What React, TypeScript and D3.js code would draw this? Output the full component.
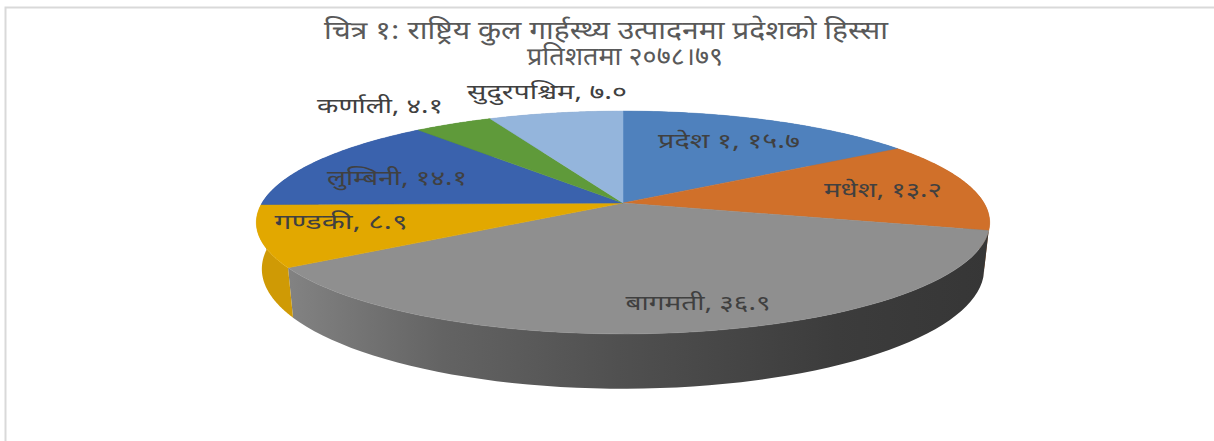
import React from "react";
import * as d3 from "d3";

const WIDTH = 1214;
const HEIGHT = 441;

const provinces = ["प्रदेश १", "मधेश", "बागमती", "गण्डकी", "लुम्बिनी", "कर्णाली", "सुदुरपश्चिम"];
const shareValues = [15.7, 13.2, 36.9, 8.9, 14.1, 4.1, 7.0];
const shareLabels = ["१५.७", "१३.२", "३६.९", "८.९", "१४.१", "४.१", "७.०"];
const sliceColors = ["#4f81bd", "#d0702a", "#8f8f8f", "#e2a800", "#3a62ad", "#5f9a3a", "#94b5dc"];
const sideColors = ["#3f6a9c", "#a85a20", "url(#greySide)", "#cf9a05", "#2f4f8c", "#4b7a2e", "#7a96b8"];
const labelX = [729, 883, 698, 341, 397, 380, 547];
const labelY = [148, 197, 310, 229, 185, 113, 99];
const labelW = [142, 118, 145, 133, 140, 126, 160];
const titleLines = ["चित्र १: राष्ट्रिय कुल गार्हस्थ्य उत्पादनमा प्रदेशको हिस्सा", "प्रतिशतमा २०७८।७९"];
const titleX = [606, 625];
const titleY = [39, 65];
const titleW = [564, 196];

const FONT = "'Noto Sans Devanagari','Lohit Devanagari','Noto Serif Devanagari','Noto Sans','DejaVu Sans',sans-serif";

// Perspective projection of the tilted disc
const cx = 623, cy = 203, R = 361, B = 108, K = 0.175;
const project = (a: number): [number, number] => {
  const u = Math.sin(a), v = -Math.cos(a);
  const s = 1 / (1 - K * v);
  return [cx + R * u * s, cy + B * v * s];
};
const lower = ([x, y]: [number, number]): [number, number] => [
  cx + (x - cx) * 0.985,
  cy + (y - cy) * 1.075 + 45,
];

const arcPoints = (a0: number, a1: number) =>
  d3.range(0, 61).map((i) => project(a0 + ((a1 - a0) * i) / 60));

const line = d3.line<[number, number]>();

export default function App() {
  const arcs = d3.pie<number>().sort(null)(shareValues);
  const order = arcs.map((_, i) => i);
  return (
    <svg
      width={WIDTH}
      height={HEIGHT}
      viewBox={`0 0 ${WIDTH} ${HEIGHT}`}
      style={{ position: "absolute", left: 0, top: 0, background: "#fff" }}
    >
      <defs>
        <linearGradient id="greySide" gradientUnits="userSpaceOnUse" x1={290} x2={990} y1={0} y2={0}>
          <stop offset="0" stopColor="#828282" />
          <stop offset="0.22" stopColor="#636363" />
          <stop offset="0.47" stopColor="#505050" />
          <stop offset="0.78" stopColor="#3c3c3c" />
          <stop offset="1" stopColor="#363636" />
        </linearGradient>
      </defs>
      <path d={`M5.5,441V7.5H${WIDTH}`} fill="none" stroke="#d9d9d9" strokeWidth={2} />
      {order.map((i) => {
        const top = arcPoints(arcs[i].startAngle, arcs[i].endAngle);
        const bottom = top.map(lower).reverse();
        return <path key={`s${i}`} d={`${line(top)}L${line(bottom)!.slice(1)}Z`} fill={sideColors[i]} />;
      })}
      {order.map((i) => {
        const top = arcPoints(arcs[i].startAngle, arcs[i].endAngle);
        return (
          <path
            key={`t${i}`}
            d={`M${cx},${cy}L${line(top)!.slice(1)}Z`}
            fill={sliceColors[i]}
            stroke={sliceColors[i]}
            strokeWidth={0.5}
          />
        );
      })}
      {provinces.map((p, i) => (
        <text
          key={p}
          x={labelX[i]}
          y={labelY[i]}
          textAnchor="middle"
          fontFamily={FONT}
          fontSize={21}
          fill="#404040"
          textLength={labelW[i]}
          lengthAdjust="spacingAndGlyphs"
        >
          {`${p}, ${shareLabels[i]}`}
        </text>
      ))}
      {titleLines.map((t, i) => (
        <text
          key={t}
          x={titleX[i]}
          y={titleY[i]}
          textAnchor="middle"
          fontFamily={FONT}
          fontSize={25}
          fill="#595959"
          textLength={titleW[i]}
          lengthAdjust="spacingAndGlyphs"
        >
          {t}
        </text>
      ))}
    </svg>
  );
}
